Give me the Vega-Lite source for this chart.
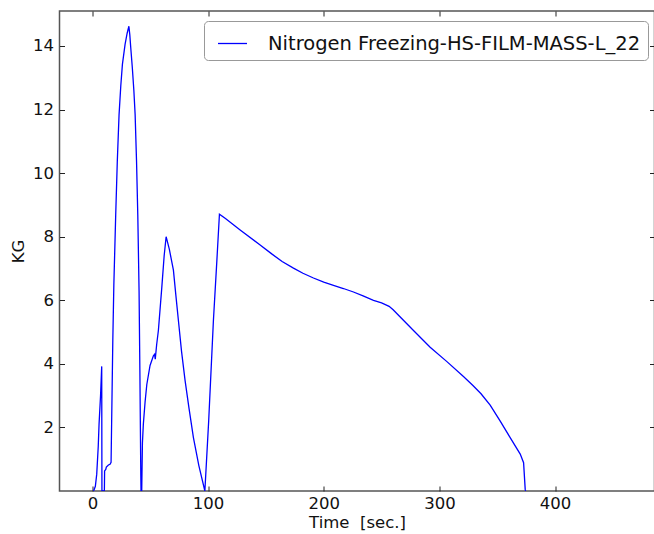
{
  "$schema": "https://vega.github.io/schema/vega-lite/v6.json",
  "width": 595,
  "height": 480,
  "autosize": {"type": "none"},
  "padding": {"left": 59.5, "top": 11, "right": 0, "bottom": 43},
  "background": "white",
  "config": {
    "font": "DejaVu Sans",
    "view": {"stroke": "#555", "strokeWidth": 1.5},
    "axis": {
      "grid": false,
      "domain": false,
      "tickColor": "#222",
      "tickSize": -5,
      "tickWidth": 1,
      "labelFont": "DejaVu Sans",
      "labelFontSize": 16.5,
      "labelColor": "#111",
      "titleFont": "DejaVu Sans",
      "titleFontSize": 16.5,
      "titleFontWeight": "normal",
      "titleColor": "#111"
    }
  },
  "data": {
    "values": [
      {"t": 1.0, "v": 0}, {"t": 2.5, "v": 0.15}, {"t": 3.7, "v": 0.53}, {"t": 5.0, "v": 1.4},
      {"t": 5.7, "v": 2.1}, {"t": 7.0, "v": 3.0}, {"t": 8.0, "v": 3.92}, {"t": 8.2, "v": 0},
      {"t": 10.3, "v": 0}, {"t": 10.5, "v": 0.63}, {"t": 11.5, "v": 0.68}, {"t": 12.0, "v": 0.75},
      {"t": 13.8, "v": 0.82}, {"t": 15.2, "v": 0.84}, {"t": 16.1, "v": 0.9}, {"t": 17.6, "v": 4.74},
      {"t": 18.5, "v": 6.5}, {"t": 20.1, "v": 8.68}, {"t": 21.5, "v": 10.4}, {"t": 23.0, "v": 11.84},
      {"t": 24.5, "v": 12.75}, {"t": 25.9, "v": 13.42}, {"t": 28.2, "v": 14.05}, {"t": 30.0, "v": 14.4},
      {"t": 31.5, "v": 14.62}, {"t": 32.3, "v": 14.35}, {"t": 33.0, "v": 14.0}, {"t": 34.5, "v": 13.3},
      {"t": 35.8, "v": 12.6}, {"t": 36.9, "v": 11.84}, {"t": 38.1, "v": 10.4}, {"t": 39.2, "v": 8.68},
      {"t": 40.3, "v": 6.3}, {"t": 41.0, "v": 3.8}, {"t": 41.8, "v": 0.5}, {"t": 42.0, "v": 0},
      {"t": 42.6, "v": 0}, {"t": 43.2, "v": 1.5}, {"t": 44.0, "v": 2.1}, {"t": 45.5, "v": 2.8},
      {"t": 47.0, "v": 3.35}, {"t": 49.8, "v": 3.95}, {"t": 52.7, "v": 4.25}, {"t": 53.7, "v": 4.3},
      {"t": 54.3, "v": 4.15}, {"t": 55.5, "v": 4.6}, {"t": 57.0, "v": 5.05}, {"t": 60.0, "v": 6.42},
      {"t": 62.0, "v": 7.4}, {"t": 63.7, "v": 8.0}, {"t": 66.5, "v": 7.6}, {"t": 70.0, "v": 6.95},
      {"t": 72.0, "v": 6.2}, {"t": 74.3, "v": 5.37}, {"t": 77.0, "v": 4.4}, {"t": 80.1, "v": 3.47},
      {"t": 83.5, "v": 2.6}, {"t": 87.3, "v": 1.68}, {"t": 92.0, "v": 0.8}, {"t": 97.2, "v": 0},
      {"t": 100.5, "v": 2.2}, {"t": 104.6, "v": 5.37}, {"t": 107.5, "v": 7.2}, {"t": 109.8, "v": 8.71},
      {"t": 115.0, "v": 8.57}, {"t": 127.7, "v": 8.21}, {"t": 145.0, "v": 7.74}, {"t": 155.0, "v": 7.46},
      {"t": 164.0, "v": 7.22}, {"t": 173.8, "v": 7.01}, {"t": 182.0, "v": 6.85}, {"t": 191.1, "v": 6.7},
      {"t": 200.0, "v": 6.57}, {"t": 208.4, "v": 6.47}, {"t": 217.0, "v": 6.37}, {"t": 225.7, "v": 6.26},
      {"t": 234.0, "v": 6.14}, {"t": 243.0, "v": 6.0}, {"t": 250.0, "v": 5.92}, {"t": 256.5, "v": 5.81},
      {"t": 260.0, "v": 5.7}, {"t": 264.0, "v": 5.55}, {"t": 277.6, "v": 5.05}, {"t": 292.0, "v": 4.52},
      {"t": 306.5, "v": 4.07}, {"t": 320.8, "v": 3.6}, {"t": 329.0, "v": 3.32}, {"t": 336.0, "v": 3.06},
      {"t": 343.9, "v": 2.7}, {"t": 352.6, "v": 2.2}, {"t": 361.2, "v": 1.68}, {"t": 369.9, "v": 1.16},
      {"t": 372.8, "v": 0.89}, {"t": 374.2, "v": 0.05}, {"t": 374.5, "v": 0}
    ]
  },
  "layer": [
    {
      "mark": {"type": "line", "strokeWidth": 1.3, "clip": true},
      "encoding": {
        "x": {
          "field": "t", "type": "quantitative",
          "scale": {"domain": [-28.5, 486], "nice": false, "zero": false},
          "axis": {"values": [0, 100, 200, 300, 400], "title": "Time\u00a0 [sec.]", "labelPadding": 9, "titlePadding": 3}
        },
        "y": {
          "field": "v", "type": "quantitative",
          "scale": {"domain": [0, 15.1], "nice": false},
          "axis": {"values": [2, 4, 6, 8, 10, 12, 14], "title": "KG", "labelPadding": 11, "titlePadding": 6}
        },
        "color": {
          "datum": "Nitrogen Freezing-HS-FILM-MASS-L_22",
          "type": "nominal",
          "scale": {"range": ["#0000ff"]},
          "legend": {
            "title": null,
            "orient": "none",
            "legendX": 144.5,
            "legendY": 10,
            "symbolType": "stroke",
            "symbolSize": 841,
            "symbolStrokeWidth": 1.3,
            "symbolOffset": 6,
            "labelFont": "DejaVu Sans",
            "labelFontSize": 19.5,
            "labelColor": "#111",
            "labelOffset": 20,
            "labelLimit": 0,
            "padding": 7,
            "strokeColor": "#999",
            "cornerRadius": 4,
            "fillColor": "white"
          }
        }
      }
    },
    {
      "mark": {"type": "line", "strokeOpacity": 0},
      "encoding": {
        "x": {"field": "t", "type": "quantitative", "axis": {"orient": "top", "values": [0, 100, 200, 300, 400], "labels": false, "title": null}},
        "y": {"field": "v", "type": "quantitative", "axis": {"orient": "right", "values": [2, 4, 6, 8, 10, 12, 14], "labels": false, "title": null}}
      }
    }
  ],
  "resolve": {"axis": {"x": "independent", "y": "independent"}}
}
